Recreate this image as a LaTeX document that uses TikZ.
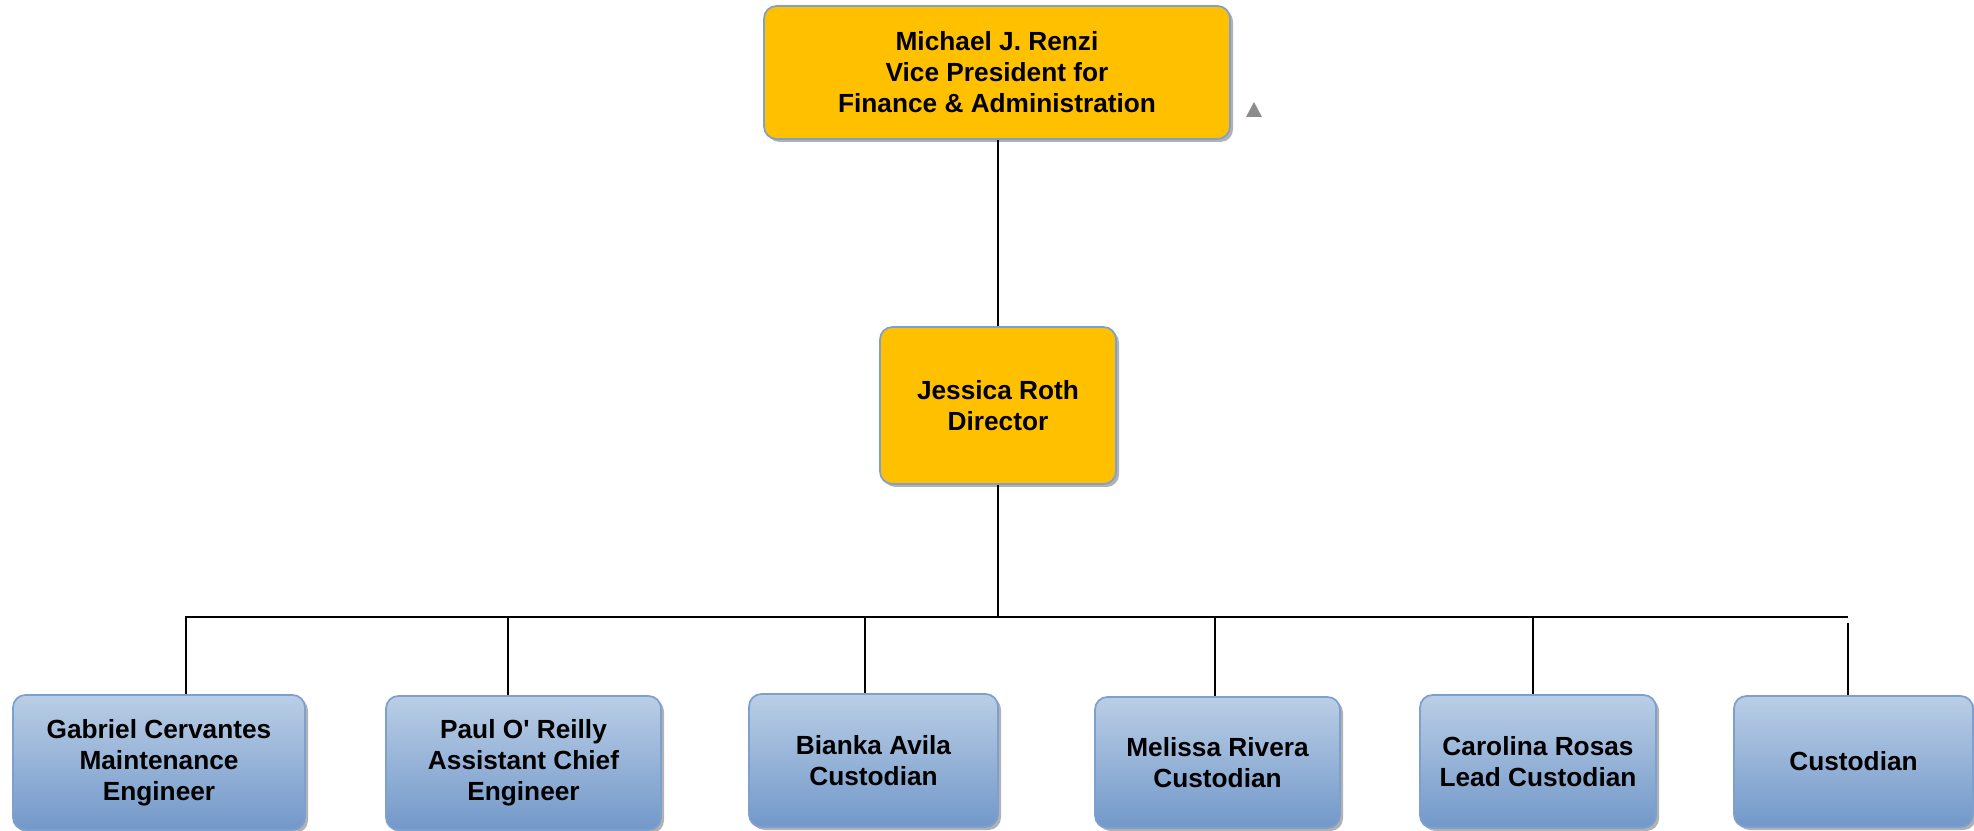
\documentclass[tikz,border=0pt]{standalone}
\usepackage{fontspec}
\setmainfont{Liberation Sans}
\usetikzlibrary{shadows}
\definecolor{gold}{HTML}{FFC000}
\definecolor{edgeblue}{HTML}{7EA0CF}
\definecolor{lightblue}{HTML}{BACEE6}
\definecolor{darkblue}{HTML}{7298C9}
\begin{document}
\begin{tikzpicture}[x=0.4pt, y=-0.4pt,
    box/.style={draw=edgeblue, line width=0.7pt, rounded corners=5pt, inner sep=0pt,
      align=center, font=\fontsize{10.5}{12.4}\selectfont\bfseries,
      drop shadow={shadow xshift=1.2pt, shadow yshift=-1.2pt, opacity=0.3, fill=black}},
    headbox/.style={box, fill=gold},
    staffbox/.style={box, top color=lightblue, bottom color=darkblue},
    link/.style={draw=black, line width=0.6pt}]
  \useasboundingbox (0,0) rectangle (1974,831);

  \node [headbox, minimum width=186.4pt, minimum height=53.2pt] (vp) at (997,72.5)
    {Michael J. Renzi\\Vice President for\\Finance \& Administration};
  \node [headbox, minimum width=94.4pt, minimum height=62.8pt] (dir) at (998,405.5)
    {Jessica Roth\\Director};

  \node [staffbox, minimum width=116.8pt, minimum height=54pt] (gab) at (159,762.5)
    {Gabriel Cervantes\\Maintenance\\Engineer};
  \node [staffbox, minimum width=110pt, minimum height=53.6pt] (paul) at (523.5,763)
    {Paul O\textquotesingle{} Reilly\\Assistant Chief\\Engineer};
  \node [staffbox, minimum width=99.6pt, minimum height=53.2pt] (bianka) at (873.5,760.5)
    {Bianka Avila\\Custodian};
  \node [staffbox, minimum width=98pt, minimum height=52.4pt] (melissa) at (1217.5,762.5)
    {Melissa Rivera\\Custodian};
  \node [staffbox, minimum width=94.4pt, minimum height=53.2pt] (carolina) at (1538,761.5)
    {Carolina Rosas\\Lead Custodian};
  \node [staffbox, minimum width=95.6pt, minimum height=52.4pt] (cust) at (1853.5,761.5)
    {Custodian};

  \fill [color=black!45] (1246,117) -- (1262,117) -- (1254,102) -- cycle;

  \coordinate (bus) at (998,617);
  \coordinate (busL) at (186,617);
  \coordinate (busR) at (1848,617);

  \draw [link] (dir.north) -- (dir.north |- vp.south);
  \draw [link] (dir.south) -- (bus);
  \draw [link] (busL) -- (busR);

  \foreach \x/\n in {186/gab, 508/paul, 865/bianka, 1215/melissa, 1533/carolina} {
    \coordinate (top-\n) at (\x,616);
    \draw [link] (top-\n) -- (top-\n |- \n.north);
  }
  \coordinate (top-cust) at (1848,623);
  \draw [link] (top-cust) -- (top-cust |- cust.north);
\end{tikzpicture}
\end{document}
